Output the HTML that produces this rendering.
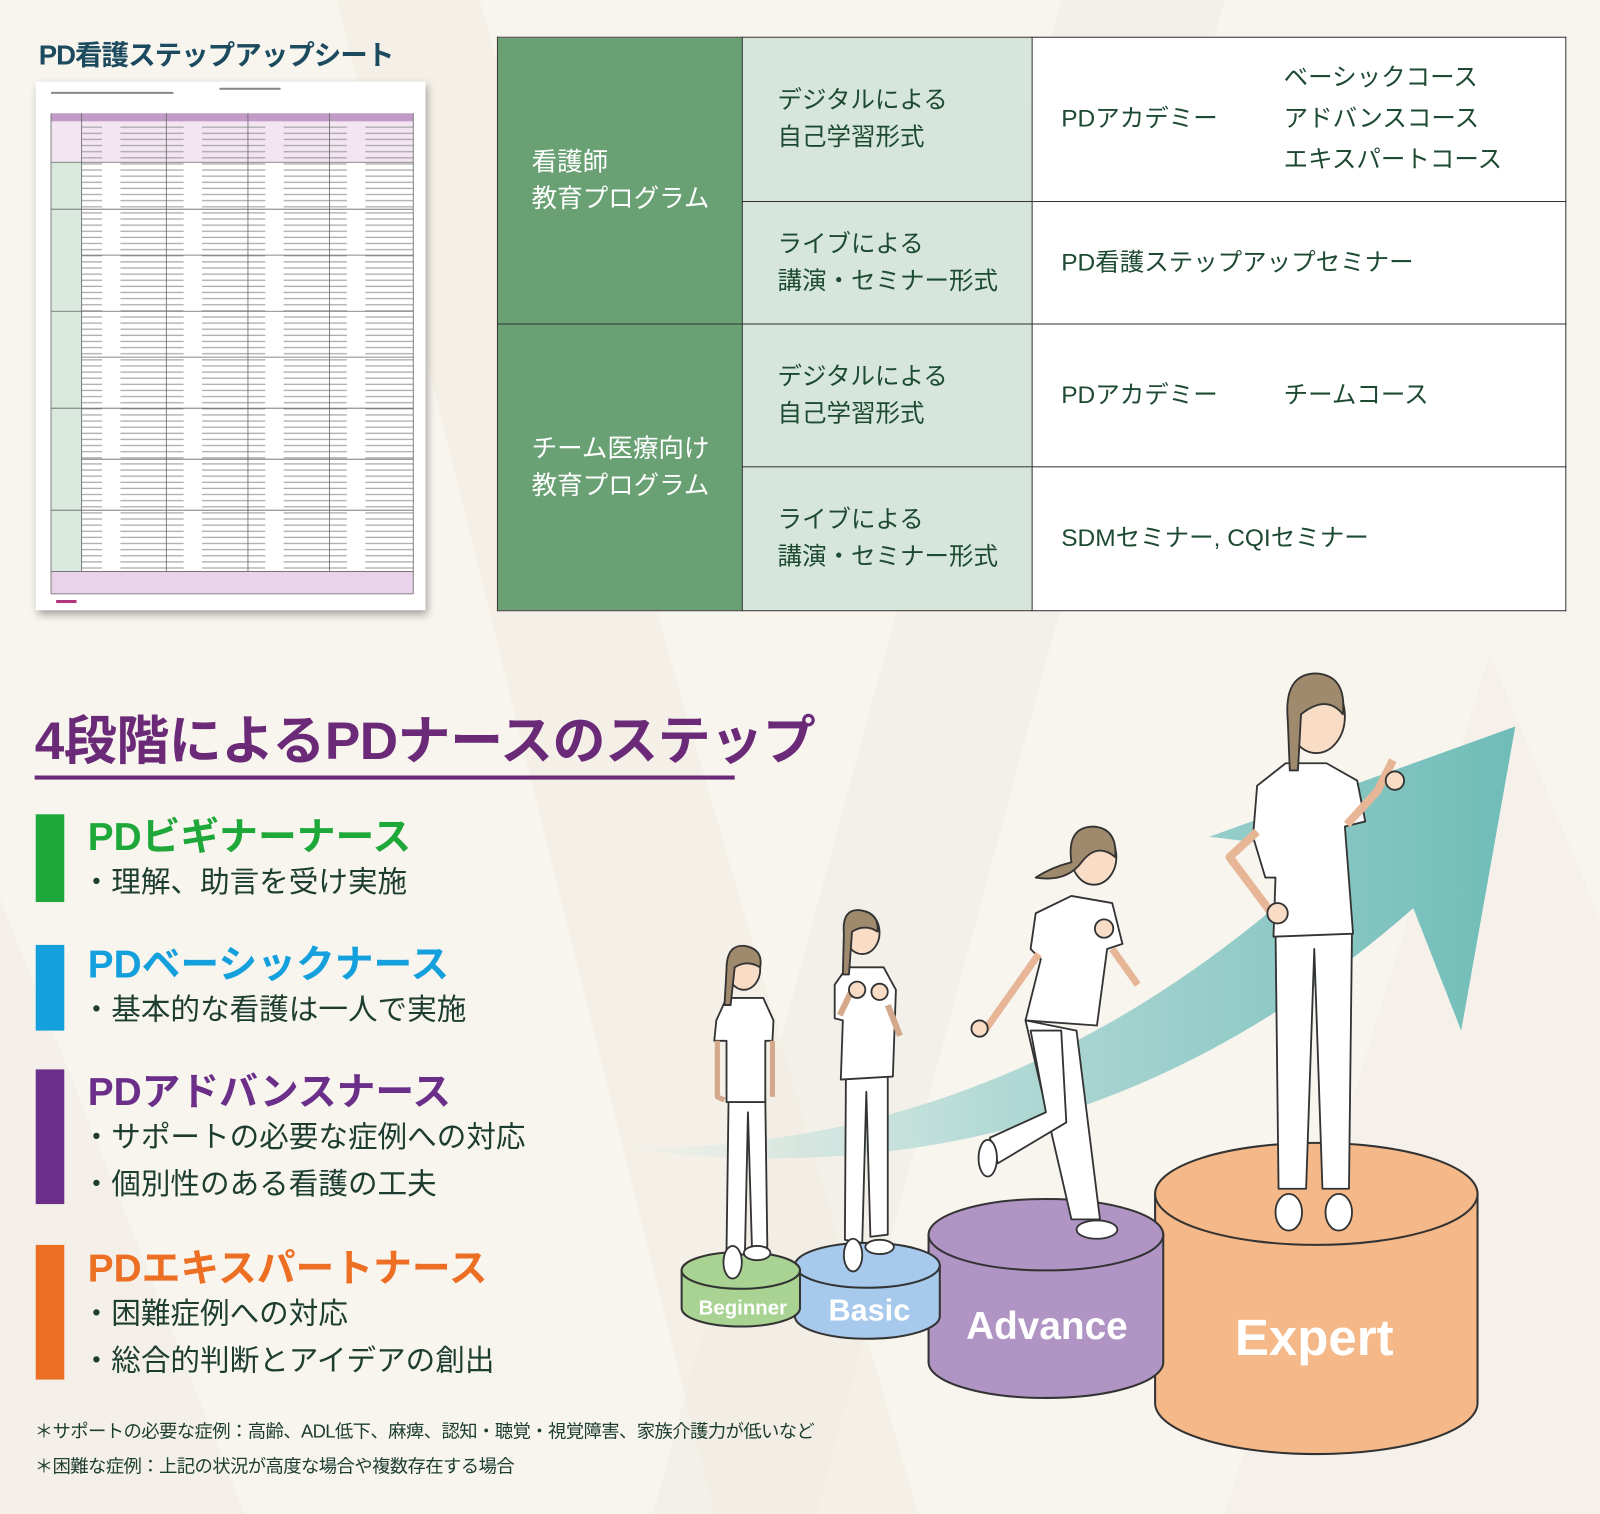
<!DOCTYPE html>
<html><head><meta charset="utf-8">
<style>
html,body{margin:0;padding:0;}
body{width:1600px;height:1514px;overflow:hidden;background:#f8f5ef;font-family:"Liberation Sans","Noto Sans CJK JP",sans-serif;}
#w{position:absolute;left:0;top:0;width:1568px;height:1484px;transform:scale(1.0204);transform-origin:0 0;}
.a{position:absolute;}
table.t{position:absolute;left:487px;top:36px;width:1048px;height:562px;border-collapse:collapse;table-layout:fixed;}
table.t td{border:1px solid #333;color:#1e4a33;font-size:24px;line-height:36px;padding:0;white-space:nowrap;overflow:hidden;}
td.c1{background:#6aa174;color:#fff !important;padding-left:33px !important;font-size:25px !important;}
td.c2{background:#d7e6dc;padding-left:34px !important;}
td.c3{background:#fff;padding-left:28px !important;}
.h{font-weight:bold;font-size:38px;}
.b{font-size:29px;color:#1d3d30;line-height:46px;}
.bar{position:absolute;left:35px;width:28px;}
</style></head><body><div id="w">
<svg class="a" style="left:0;top:0" width="1568" height="1484">
<polygon points="330,0 470,0 900,1484 700,1484" fill="#f2eee6" opacity=".7"/>
<polygon points="1040,0 1200,0 800,1484 640,1484" fill="#f0ece4" opacity=".6"/>
<polygon points="1460,640 1568,900 1568,1484 1200,1484" fill="#f3efe8" opacity=".7"/>
<polygon points="0,880 240,1484 0,1484" fill="#f2eee7" opacity=".7"/>
</svg>
<div class="a" style="left:38px;top:32px;font-size:27px;font-weight:bold;color:#1c4a5e;letter-spacing:-1px;">PD看護ステップアップシート</div>
<div class="a" style="left:35px;top:80px;width:382px;height:518px;background:#fff;box-shadow:2px 4px 8px rgba(0,0,0,.35);"></div>
<svg class="a" style="left:35px;top:80px" width="382" height="518">
<defs><pattern id="ln" width="80" height="6" patternUnits="userSpaceOnUse"><rect x="3" y="2" width="62" height="1.3" fill="#999"/></pattern></defs>
<rect x="15" y="31" width="355" height="8" fill="#c29ac6"/>
<rect x="15" y="39" width="355" height="40" fill="#f3e6f2"/>
<rect x="15" y="79" width="30" height="410" fill="#d9e9dd"/>
<rect x="15" y="480" width="355" height="22" fill="#ead3ea"/>
<rect x="45" y="40" width="325" height="440" fill="url(#ln)" opacity=".8"/>
<g stroke="#666" stroke-width=".8">
<line x1="15" y1="31" x2="15" y2="502"/><line x1="45" y1="31" x2="45" y2="480"/>
<line x1="128" y1="31" x2="128" y2="480"/><line x1="208" y1="31" x2="208" y2="480"/>
<line x1="288" y1="31" x2="288" y2="480"/><line x1="370" y1="31" x2="370" y2="502"/>
<line x1="15" y1="79" x2="370" y2="79"/><line x1="15" y1="125" x2="370" y2="125"/>
<line x1="45" y1="170" x2="370" y2="170"/><line x1="15" y1="225" x2="370" y2="225"/>
<line x1="45" y1="270" x2="370" y2="270"/><line x1="15" y1="320" x2="370" y2="320"/>
<line x1="45" y1="370" x2="370" y2="370"/><line x1="15" y1="420" x2="370" y2="420"/>
<line x1="15" y1="480" x2="370" y2="480"/><line x1="15" y1="502" x2="370" y2="502"/>
</g>
<rect x="15" y="10" width="120" height="2" fill="#888"/><rect x="180" y="6" width="60" height="2" fill="#888"/>
<rect x="20" y="508" width="20" height="3" fill="#b0387a"/>
</svg>
<table class="t">
<colgroup><col style="width:240px"><col style="width:284px"><col></colgroup>
<tr style="height:161px"><td class="c1" rowspan="2">看護師<br>教育プログラム</td><td class="c2">デジタルによる<br>自己学習形式</td><td class="c3" style="line-height:40px"><span style="display:inline-block;width:218px;vertical-align:middle">PDアカデミー</span><span style="display:inline-block;vertical-align:middle">ベーシックコース<br>アドバンスコース<br>エキスパートコース</span></td></tr>
<tr style="height:120px"><td class="c2">ライブによる<br>講演・セミナー形式</td><td class="c3">PD看護ステップアップセミナー</td></tr>
<tr style="height:140px"><td class="c1" rowspan="2">チーム医療向け<br>教育プログラム</td><td class="c2">デジタルによる<br>自己学習形式</td><td class="c3"><span style="display:inline-block;width:218px">PDアカデミー</span>チームコース</td></tr>
<tr style="height:141px"><td class="c2">ライブによる<br>講演・セミナー形式</td><td class="c3">SDMセミナー, CQIセミナー</td></tr>
</table>

<div class="a" style="left:34px;top:684px;font-size:52px;font-weight:bold;color:#6b2a78;letter-spacing:-0.5px;">4段階によるPDナースのステップ</div>
<div class="a" style="left:34px;top:760px;width:686px;height:4px;background:#6b2a78;"></div>

<div class="bar" style="top:798px;height:86px;background:#1fa83a"></div>
<div class="a h" style="left:86px;top:789px;color:#1fa83a">PDビギナーナース</div>
<div class="a b" style="left:80px;top:842px">・理解、助言を受け実施</div>

<div class="bar" style="top:926px;height:84px;background:#14a0dc"></div>
<div class="a h" style="left:86px;top:914px;color:#14a0dc">PDベーシックナース</div>
<div class="a b" style="left:80px;top:967px">・基本的な看護は一人で実施</div>

<div class="bar" style="top:1048px;height:132px;background:#6b2f8a"></div>
<div class="a h" style="left:86px;top:1039px;color:#6b2f8a">PDアドバンスナース</div>
<div class="a b" style="left:80px;top:1092px">・サポートの必要な症例への対応<br>・個別性のある看護の工夫</div>

<div class="bar" style="top:1220px;height:132px;background:#ec6f24"></div>
<div class="a h" style="left:86px;top:1212px;color:#ec6f24">PDエキスパートナース</div>
<div class="a b" style="left:80px;top:1265px">・困難症例への対応<br>・総合的判断とアイデアの創出</div>

<div class="a" style="left:34px;top:1386px;font-size:18px;color:#1d3d30;line-height:34px;letter-spacing:-0.6px">＊サポートの必要な症例：高齢、ADL低下、麻痺、認知・聴覚・視覚障害、家族介護力が低いなど<br>＊困難な症例：上記の状況が高度な場合や複数存在する場合</div>

<svg class="a" style="left:0;top:0" width="1568" height="1484">
<defs><linearGradient id="ar" x1="0" y1="0" x2="1" y2="0"><stop offset="0" stop-color="#bfe0dc" stop-opacity="0"/><stop offset=".4" stop-color="#b5dad6"/><stop offset="1" stop-color="#6fbcb8"/></linearGradient></defs>
<path d="M610,1125 Q1000,1130 1310,835 L1185,820 L1485,712 L1432,1010 L1385,890 Q1050,1185 610,1125 Z" fill="url(#ar)"/>
<g stroke="#333" stroke-width="2">
<path d="M1132,1170 L1132,1375 A158,50 0 0 0 1448,1375 L1448,1170 Z" fill="#f5b888"/>
<ellipse cx="1290" cy="1170" rx="158" ry="50" fill="#f5b888"/>
<path d="M910,1210 L910,1335 A115,35 0 0 0 1140,1335 L1140,1210 Z" fill="#b095c4"/>
<ellipse cx="1025" cy="1210" rx="115" ry="35" fill="#b095c4"/>
<path d="M779,1240 L779,1290 A71,22 0 0 0 921,1290 L921,1240 Z" fill="#a6c9ec"/>
<ellipse cx="850" cy="1240" rx="71" ry="22" fill="#a6c9ec"/>
<path d="M668,1245 L668,1282 A58,18 0 0 0 784,1282 L784,1245 Z" fill="#a8d393"/>
<ellipse cx="726" cy="1245" rx="58" ry="18" fill="#a8d393"/>
</g>
<g fill="#fff" font-weight="bold" font-family="Liberation Sans,sans-serif" text-anchor="middle">
<text x="728" y="1288" font-size="20">Beginner</text>
<text x="852" y="1294" font-size="30">Basic</text>
<text x="1026" y="1312" font-size="38">Advance</text>
<text x="1288" y="1328" font-size="50">Expert</text>
</g>
<g stroke="#333" stroke-width="1.8" stroke-linejoin="round">
<path d="M714,1078 L712,1225 L730,1230 L733,1090 L737,1225 L752,1222 L750,1078 Z" fill="#fff"/>
<path d="M702,1000 L712,978 L748,978 L758,1000 L757,1020 L750,1020 L750,1080 L712,1080 L712,1020 L700,1020 Z" fill="#fff"/>
<path d="M703,1020 L703,1075 L710,1078 M757,1020 L757,1075" fill="none" stroke="#d4a88a" stroke-width="5"/>
<ellipse cx="729" cy="950" rx="16" ry="20" fill="#f8dcc6"/>
<path d="M712,950 Q712,925 730,927 Q748,930 745,948 Q732,940 720,948 L716,985 L710,985 Z" fill="#a08a6e"/>
<ellipse cx="718" cy="1237" rx="9" ry="16" fill="#fff"/><ellipse cx="742" cy="1228" rx="13" ry="7" fill="#fff"/>
<path d="M829,1055 L828,1215 L845,1218 L849,1070 L853,1212 L870,1210 L870,1055 Z" fill="#fff"/>
<path d="M818,965 L830,948 L866,948 L878,970 L875,1055 L824,1058 L826,1000 L818,998 Z" fill="#fff"/>
<path d="M823,995 L835,970 M870,985 L882,1015" stroke="#d4a88a" stroke-width="6"/>
<circle cx="840" cy="970" r="8" fill="#f8dcc6"/><circle cx="862" cy="972" r="8" fill="#f8dcc6"/>
<ellipse cx="845" cy="914" rx="17" ry="21" fill="#f8dcc6"/>
<path d="M827,915 Q825,890 843,892 Q862,895 860,913 Q848,905 835,913 L832,955 L826,955 Z" fill="#a08a6e"/>
<ellipse cx="836" cy="1230" rx="9" ry="16" fill="#fff"/><ellipse cx="862" cy="1222" rx="14" ry="7" fill="#fff"/>
<path d="M1005,1000 L1050,1195 L1078,1195 L1055,1010 Z" fill="#fff"/>
<path d="M1010,1010 L1025,1090 L970,1115 L978,1140 L1045,1100 L1040,1010 Z" fill="#fff"/>
<path d="M1015,895 L1050,878 L1090,885 L1100,925 L1085,930 L1075,1005 L1005,1000 L1020,940 L1010,930 Z" fill="#fff"/>
<path d="M1018,935 L965,1010 M1090,930 L1115,965" stroke="#e6b697" stroke-width="7" fill="none"/>
<circle cx="1082" cy="910" r="9" fill="#f8dcc6"/><circle cx="960" cy="1008" r="8" fill="#f8dcc6"/>
<ellipse cx="1072" cy="840" rx="22" ry="27" fill="#f8dcc6"/>
<path d="M1050,845 Q1045,810 1072,810 Q1095,812 1093,840 Q1075,825 1060,845 Q1045,865 1015,860 Q1030,850 1050,845 Z" fill="#a08a6e"/>
<ellipse cx="1075" cy="1205" rx="20" ry="9" fill="#fff"/><ellipse cx="968" cy="1135" rx="9" ry="18" fill="#fff"/>
<path d="M1250,910 L1253,1165 L1280,1165 L1288,930 L1296,1165 L1322,1165 L1325,910 Z" fill="#fff"/>
<path d="M1232,770 L1260,748 L1300,748 L1330,765 L1338,805 L1318,810 L1326,915 L1248,918 L1250,860 L1240,860 L1228,820 Z" fill="#fff"/>
<path d="M1232,815 L1205,840 L1250,900 M1320,808 L1350,775 L1365,745" stroke="#e6b697" stroke-width="8" fill="none"/>
<circle cx="1367" cy="765" r="9" fill="#f8dcc6"/><circle cx="1252" cy="895" r="10" fill="#f8dcc6"/>
<ellipse cx="1290" cy="702" rx="28" ry="36" fill="#f8dcc6"/>
<path d="M1262,705 Q1258,660 1290,660 Q1320,662 1316,700 Q1300,680 1275,700 L1272,755 L1264,755 Z" fill="#a08a6e"/>
<ellipse cx="1263" cy="1188" rx="13" ry="18" fill="#fff"/><ellipse cx="1312" cy="1188" rx="13" ry="18" fill="#fff"/>
</g>
</svg>
</div></body></html>
